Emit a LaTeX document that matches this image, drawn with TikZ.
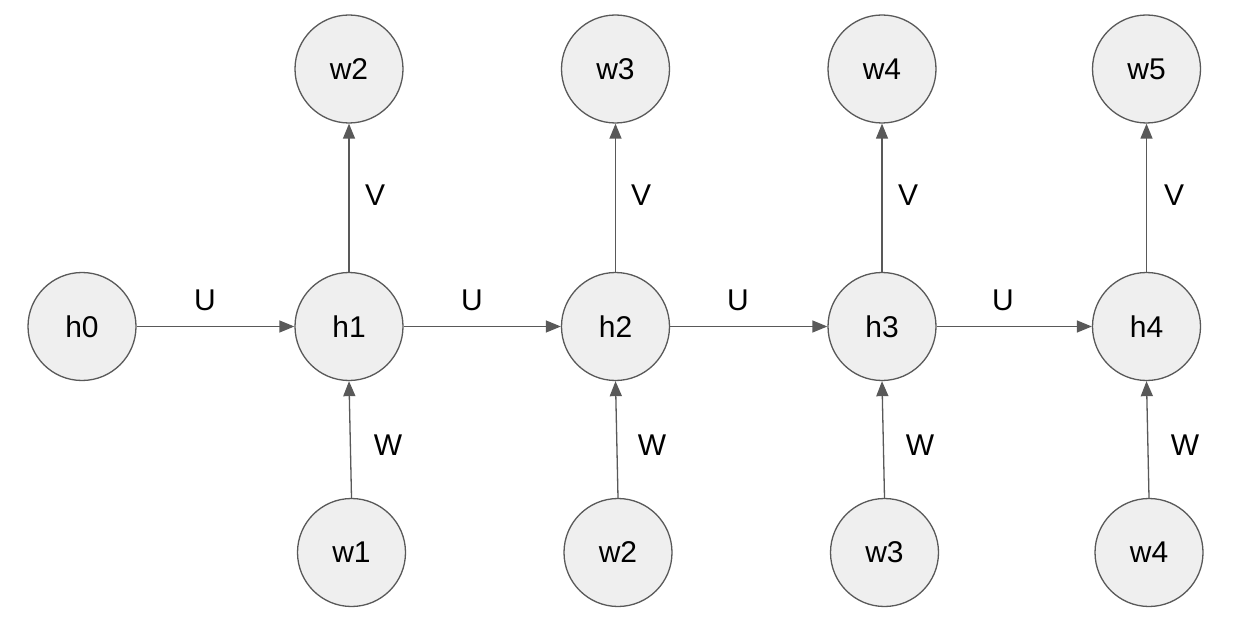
\documentclass[tikz,border=0pt]{standalone}
\usepackage{fontspec}
\setmainfont{Liberation Sans}
\usetikzlibrary{arrows.meta}
\definecolor{nodefill}{HTML}{EFEFEF}
\definecolor{edgegray}{HTML}{595959}
\begin{document}
\begin{tikzpicture}[x=1pt,y=-1pt,
  cnode/.style={circle,draw=edgegray,fill=nodefill,line width=1.3pt,minimum size=108pt,inner sep=0pt,font=\fontsize{30}{36}\selectfont},
  conn/.style={draw=edgegray,line width=1.3pt,-{Triangle[length=15pt,width=12pt]}},
  lbl/.style={font=\fontsize{30}{36}\selectfont,inner sep=0pt}]
\useasboundingbox (0,0) rectangle (1244,628);
\node[cnode] (h0) at (82,326.5) {h0};
\node[cnode] (h1) at (349,326.5) {h1};
\node[cnode] (h2) at (615.5,326.5) {h2};
\node[cnode] (h3) at (882,326.5) {h3};
\node[cnode] (h4) at (1146.5,326.5) {h4};
\node[cnode] (t2) at (349,69) {w2};
\node[cnode] (t3) at (615.5,69) {w3};
\node[cnode] (t4) at (882,69) {w4};
\node[cnode] (t5) at (1146.5,69) {w5};
\node[cnode] (b1) at (351.5,552.5) {w1};
\node[cnode] (b2) at (618,552.5) {w2};
\node[cnode] (b3) at (884.5,552.5) {w3};
\node[cnode] (b4) at (1149,552.5) {w4};
\draw[conn] (h0) -- (h1);
\draw[conn] (h1) -- (h2);
\draw[conn] (h2) -- (h3);
\draw[conn] (h3) -- (h4);
\draw[conn] (h1.north) -- (t2.south);
\draw[conn] (h2.north) -- (t3.south);
\draw[conn] (h3.north) -- (t4.south);
\draw[conn] (h4.north) -- (t5.south);
\draw[conn] (b1.north) -- (h1.south);
\draw[conn] (b2.north) -- (h2.south);
\draw[conn] (b3.north) -- (h3.south);
\draw[conn] (b4.north) -- (h4.south);
\node[lbl] (u1) at (205,300) {U};
\node[lbl] (u2) at (472,300) {U};
\node[lbl] (u3) at (738,300) {U};
\node[lbl] (u4) at (1003,300) {U};
\node[lbl] (v1) at (375,195) {V};
\node[lbl] (v2) at (641,195) {V};
\node[lbl] (v3) at (908,195) {V};
\node[lbl] (v4) at (1174,195) {V};
\node[lbl] (w1) at (388,445) {W};
\node[lbl] (w2) at (652,445) {W};
\node[lbl] (w3) at (920,445) {W};
\node[lbl] (w4) at (1185,445) {W};
\end{tikzpicture}
\end{document}
